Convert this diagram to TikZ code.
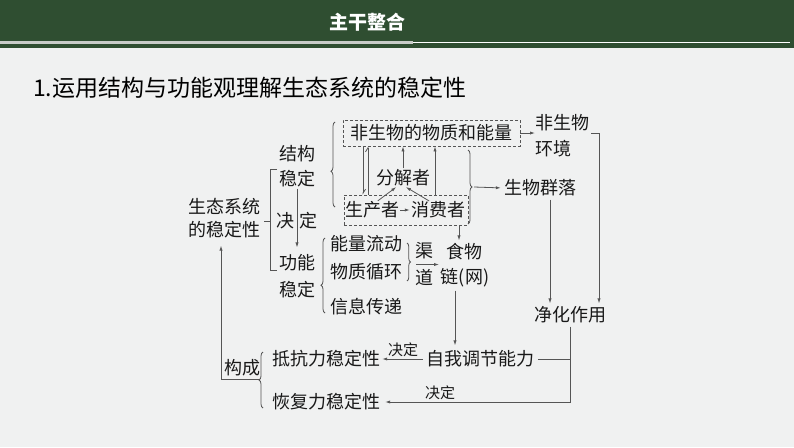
\documentclass[tikz,border=0pt]{standalone}
\usepackage{fontspec}
\setmainfont{Noto Sans CJK SC}
\usetikzlibrary{arrows.meta,decorations.pathreplacing,calc}
\definecolor{hdr}{RGB}{47,78,49}
\definecolor{bg}{RGB}{240,241,241}
\definecolor{hline}{RGB}{200,204,200}
\definecolor{ln}{RGB}{85,85,85}
\definecolor{tx}{RGB}{25,25,25}
\begin{document}
\begin{tikzpicture}[x=1pt,y=-1pt,
  txt/.style={inner sep=0pt, text=tx, font=\fontsize{18}{21}\selectfont},
  small/.style={inner sep=0pt, text=tx, font=\fontsize{15}{18}\selectfont},
  conn/.style={draw=ln, line width=0.8pt},
  arr/.style={conn, -{Latex[length=5pt,width=3.2pt]}},
  dbox/.style={draw=ln, line width=0.8pt, dash pattern=on 3pt off 2pt},
  brc/.style={conn, decorate, decoration={brace, amplitude=4pt}},
]
\useasboundingbox (0,0) rectangle (794,447);
\fill[bg] (0,0) rectangle (794,447);
\fill[hdr] (0,0) rectangle (794,48);
\draw[hline, line width=3pt] (0,42) -- (413,42);
\draw[white, line width=0.8pt] (413,42.5) -- (790,42.5);
\node[inner sep=0pt, text=white, font=\fontsize{19}{22}\selectfont\bfseries] (hd) at (367,22) {主干整合};
\node[anchor=west, inner sep=0pt, text=black, font=\fontsize{23}{27}\selectfont] (ttl) at (33,88) {1.运用结构与功能观理解生态系统的稳定性};

% left column
\node[txt] (sta1) at (224,207) {生态系统};
\node[txt] (sta2) at (224,230) {的稳定性};
\node[txt] (jg1) at (297,154) {结构};
\node[txt] (jg2) at (297,179) {稳定};
\node[txt] (gn1) at (297,263) {功能};
\node[txt] (gn2) at (297,290) {稳定};
\node[txt] (jue) at (285,221) {决};
\node[txt] (ding) at (308,221) {定};

% top structure
\node[txt, dbox, minimum width=177pt, minimum height=26pt] (abio) at (431.5,133) {非生物的物质和能量};
\node[dbox, inner sep=0pt, minimum width=124pt, minimum height=30pt] (pbox) at (406,210) {};
\node[txt] (fjz) at (403,178) {分解者};
\node[txt] (scz) at (372,210) {生产者};
\node[txt] (xfz) at (438,210) {消费者};
\node[txt, anchor=west] (fbio1) at (535,123) {非生物};
\node[txt, anchor=west] (fbio2) at (535,149) {环境};
\node[txt] (swql) at (540,188) {生物群落};
\node[txt] (jhzy) at (570,315) {净化作用};

% function
\node[txt] (nllt) at (366,244) {能量流动};
\node[txt] (wzxh) at (366,272) {物质循环};
\node[txt] (xxcd) at (366,307) {信息传递};
\node[txt] (qu) at (424,251) {渠};
\node[txt] (dao) at (424,278) {道};
\node[txt] (sw1) at (464,252) {食物};
\node[txt] (sw2) at (465,278) {链(网)};

% bottom
\node[txt] (zwtj) at (480,359) {自我调节能力};
\node[txt] (dkl) at (326,359) {抵抗力稳定性};
\node[txt] (hfl) at (326,402) {恢复力稳定性};
\node[txt] (gc) at (242,368) {构成};
\node[small] (jd1) at (403,350) {决定};
\node[small] (jd2) at (440,393) {决定};

% square bracket
\coordinate (bt) at (277,169);
\coordinate (bb) at (277,270);
\coordinate (bm) at (264,221);
\draw[conn] (bt) -- (270,169) -- (270,270) -- (bb);
\draw[conn] (270,221) -- (bm);
\draw[arr, shorten <=1pt, shorten >=7pt] (jg2.south) -- (gn1.north);

% braces
\draw[brc, decoration={aspect=0.42}] (335,207) -- (335,122);
\draw[brc] (468,150) -- (468,224);
\draw[brc, decoration={aspect=0.37}] (325,313) -- (325,238);
\draw[brc, decoration={amplitude=3.5pt}] (407,243) -- (407,281);
\draw[brc] (263,408) -- (263,352);

% top connectors
\draw[conn, -{Straight Barb[left,length=4pt,width=5pt]}] (363,0 |- abio.south) -- (363,0 |- pbox.north);
\draw[conn, -{Straight Barb[left,length=4pt,width=5pt]}] (368,0 |- pbox.north) -- (368,0 |- abio.south);
\draw[arr, shorten <=1pt, shorten >=1pt] (scz.east) -- (xfz.west);
\draw[arr, shorten <=1pt, shorten >=1pt] ([xshift=5pt]scz.north) -- ([xshift=-6pt]fjz.south);
\draw[arr, shorten <=1pt, shorten >=1pt] ([xshift=-8pt]xfz.north) -- ([xshift=2pt]fjz.south);
\draw[arr, shorten <=1pt] (fjz.north) -- (fjz.north |- abio.south);
\draw[arr] (435,0 |- pbox.north) -- (435,0 |- abio.south);
\coordinate (rb) at (474,187);
\draw[arr, shorten >=3pt] (rb) -- (swql.west);
\draw[arr] (abio.east) -- (abio.east -| fbio1.west);
\draw[arr, shorten <=2pt, shorten >=3pt] (fbio1.east |- abio.east) -| (599,0 |- jhzy.north);
\draw[arr, shorten <=3pt, shorten >=3pt] (550,0 |- swql.south) -- (550,0 |- jhzy.north);

% middle connectors
\coordinate (qd) at ($(qu)!0.5!(dao)$);
\draw[arr] ([xshift=-8pt]qd) -- ([xshift=15pt]qd);
\draw[arr, shorten >=3pt] (459,0 |- pbox.south) -- (459,0 |- sw1.north);
\draw[arr, shorten <=3pt, shorten >=5pt] (455,0 |- sw2.south) -- (455,0 |- zwtj.north);

% bottom connectors
\draw[arr, shorten <=3pt] (jhzy.south) |- ([xshift=5pt]hfl.east);
\draw[conn, shorten <=4pt] (zwtj.east) -- (zwtj.east -| jhzy.south);
\draw[arr, shorten <=3pt, shorten >=2pt] (zwtj.west) -- (dkl.east);
\coordinate (et) at (259,379);
\draw[arr, shorten >=7pt] (et) -| (221,0 |- sta2.south);
\end{tikzpicture}
\end{document}
